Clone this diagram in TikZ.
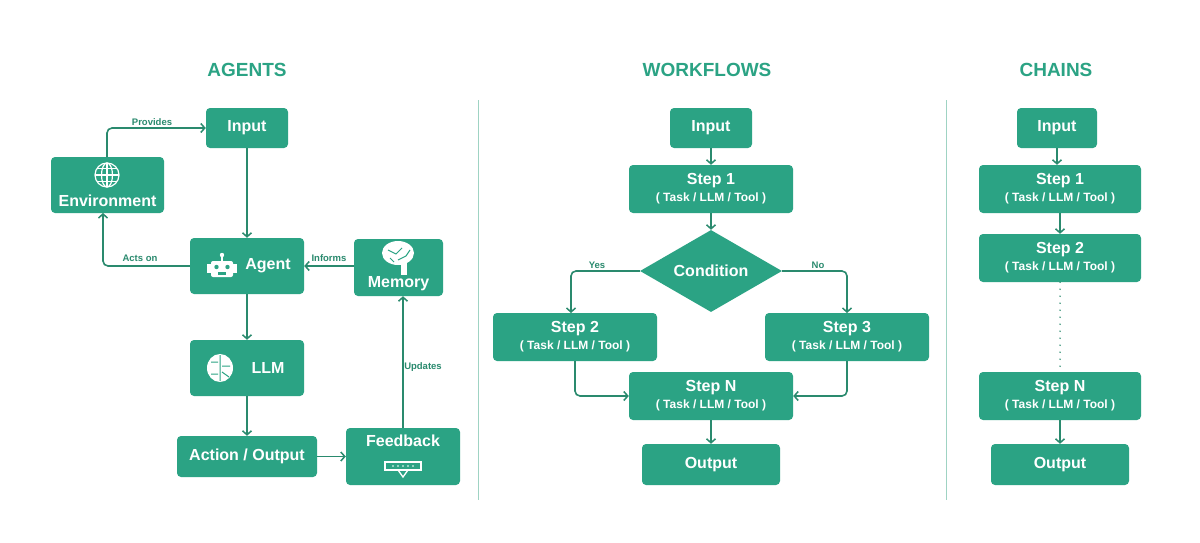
\documentclass[tikz,border=0pt]{standalone}
\usepackage{fontspec}
\setmainfont{Liberation Sans}
\usetikzlibrary{shapes.geometric,arrows.meta}
\definecolor{gfill}{HTML}{2BA384}
\definecolor{garr}{HTML}{2A8A6E}
\definecolor{gline}{HTML}{9FD3C3}
\begin{document}
\begin{tikzpicture}[x=1pt,y=-1pt,
 box/.style={fill=gfill,draw=none,rounded corners=4pt,text=white,font=\fontsize{16}{18}\selectfont\bfseries,align=center,inner sep=0pt},
 stepbox/.style={box,minimum width=164pt,minimum height=48pt},
 arr/.style={draw=garr,line width=1.6pt,-{Straight Barb[length=4pt,width=9pt,line width=1.5pt]},rounded corners=5pt},
 lab/.style={text=garr,font=\fontsize{9.5}{10}\selectfont\bfseries},
 title/.style={text=gfill,font=\fontsize{19}{21}\selectfont\bfseries},
 ico/.style={draw=white,line width=1.2pt}]
\useasboundingbox (0,0) rectangle (1200,543);
\fill[white] (0,0) rectangle (1200,543);
\draw[gline,line width=1pt] (478,100) -- (478,500);
\draw[gline,line width=1pt] (946,100) -- (946,500);
\newcommand{\stxt}[1]{#1\\[-1pt]{\fontsize{12}{14}\selectfont ( Task / LLM / Tool )}}
% AGENTS
\node[title] (t1) at (247,70) {AGENTS};
\node[box,minimum width=82pt,minimum height=40pt] (ain) at (247,128) {Input};
\node[box,minimum width=113pt,minimum height=56pt] (env) at (107.5,185) {};
\node[box,fill=none] (envt) at (107.5,201) {Environment};
\node[box,minimum width=114pt,minimum height=56pt] (agent) at (247,266) {};
\node[box,fill=none] (agentt) at (268,266) {Agent};
\node[box,minimum width=89pt,minimum height=57pt] (mem) at (398.5,267.5) {};
\node[box,fill=none] (memt) at (398.5,284) {Memory};
\node[box,minimum width=114pt,minimum height=56pt] (llm) at (247,368) {};
\node[box,fill=none] (llmt) at (268,368) {LLM};
\node[box,minimum width=140pt,minimum height=41pt] (act) at (247,456.5) {Action / Output};
\node[box,minimum width=114pt,minimum height=57pt] (fb) at (403,456.5) {};
\node[box,fill=none] (fbt) at (403,441) {Feedback};
% icons
\draw[ico] (107,175) circle (12pt);
\draw[ico] (107,175) ellipse (5.5pt and 12pt);
\draw[ico] (95,175) -- (119,175) (97,168.5) -- (117,168.5) (97,181.5) -- (117,181.5) (107,163) -- (107,187);
\fill[white,rounded corners=2pt] (211,261) rectangle (233,277);
\fill[white] (207,264) rectangle (237,273);
\draw[white,line width=1.5pt] (222,261) -- (222,256);
\fill[white] (222,255) circle (2.2pt);
\fill[gfill] (216.5,267) circle (2.2pt) (227.5,267) circle (2.2pt);
\fill[gfill] (218,272) rectangle (226,275);
\fill[white] (398,253) ellipse (16pt and 12pt);
\fill[white] (401,262) rectangle (407,275);
\draw[gfill,line width=1pt] (388,250) -- (396,254) -- (402,248) (398,260) -- (406,256) -- (410,250) (390,258) -- (394,262);
\fill[white] (220,368) ellipse (13pt and 14pt);
\draw[gfill,line width=1pt] (220,355) -- (220,381) (211,362) -- (218,362) (211,374) -- (218,374) (222,366) -- (230,366) (222,372) -- (229,377);
\draw[white,line width=1.3pt] (385,462) rectangle (421,470);
\draw[white,line width=1.3pt] (398,470) -- (403,477) -- (408,470);
\foreach \i in {0,...,4} \fill[white] (393+\i*5,466) circle (0.9pt);
% connectors
\draw[arr] (107,157) |- (ain.west);
\node[lab] (lprov) at (152,122) {Provides};
\draw[arr] (ain) -- (agent);
\draw[arr] (agent.west) -| (103,213);
\node[lab] (lacts) at (140,258) {Acts on};
\draw[arr] (mem.west|-agent) -- (agent.east);
\node[lab] (linf) at (329,258) {Informs};
\draw[arr] (agent) -- (llm);
\draw[arr] (llm) -- (act);
\draw[arr] (act) -- (fb);
\draw[arr] (fb.north) -- (mem.south -| fb.north);
\node[lab] (lupd) at (423,367) {Updates};
% WORKFLOWS
\node[title] (t2) at (707,70) {WORKFLOWS};
\node[box,minimum width=82pt,minimum height=40pt] (win) at (711,128) {Input};
\node[stepbox] (w1) at (711,189) {\stxt{Step 1}};
\node[diamond,fill=gfill,text=white,font=\fontsize{16}{18}\selectfont\bfseries,minimum width=142pt,minimum height=82pt,inner sep=0pt,aspect=1.73] (cond) at (711,271) {Condition};
\node[stepbox] (w2) at (575,337) {\stxt{Step 2}};
\node[stepbox] (w3) at (847,337) {\stxt{Step 3}};
\node[stepbox] (wn) at (711,396) {\stxt{Step N}};
\node[box,minimum width=138pt,minimum height=41pt] (wout) at (711,464.5) {Output};
\draw[arr] (win) -- (w1);
\draw[arr] (w1) -- (cond);
\draw[arr] (cond.west) -| (571,313);
\node[lab] (lyes) at (597,265) {Yes};
\draw[arr] (cond.east) -| (847,313);
\node[lab] (lno) at (818,265) {No};
\draw[arr] (575,361) |- (wn.west);
\draw[arr] (847,361) |- (wn.east);
\draw[arr] (wn) -- (wout);
% CHAINS
\node[title] (t3) at (1056,70) {CHAINS};
\node[box,minimum width=80pt,minimum height=40pt] (cin) at (1057,128) {Input};
\node[stepbox,minimum width=162pt] (c1) at (1060,189) {\stxt{Step 1}};
\node[stepbox,minimum width=162pt] (c2) at (1060,258) {\stxt{Step 2}};
\node[stepbox,minimum width=162pt] (cn) at (1060,396) {\stxt{Step N}};
\node[box,minimum width=138pt,minimum height=41pt] (cout) at (1060,464.5) {Output};
\draw[arr] (cin) -- (cin|-c1.north);
\draw[arr] (c1) -- (c2);
\draw[garr,line width=1.6pt,line cap=round,dash pattern=on 0pt off 7pt] (c2) -- (cn);
\draw[arr] (cn) -- (cout);
\end{tikzpicture}
\end{document}
